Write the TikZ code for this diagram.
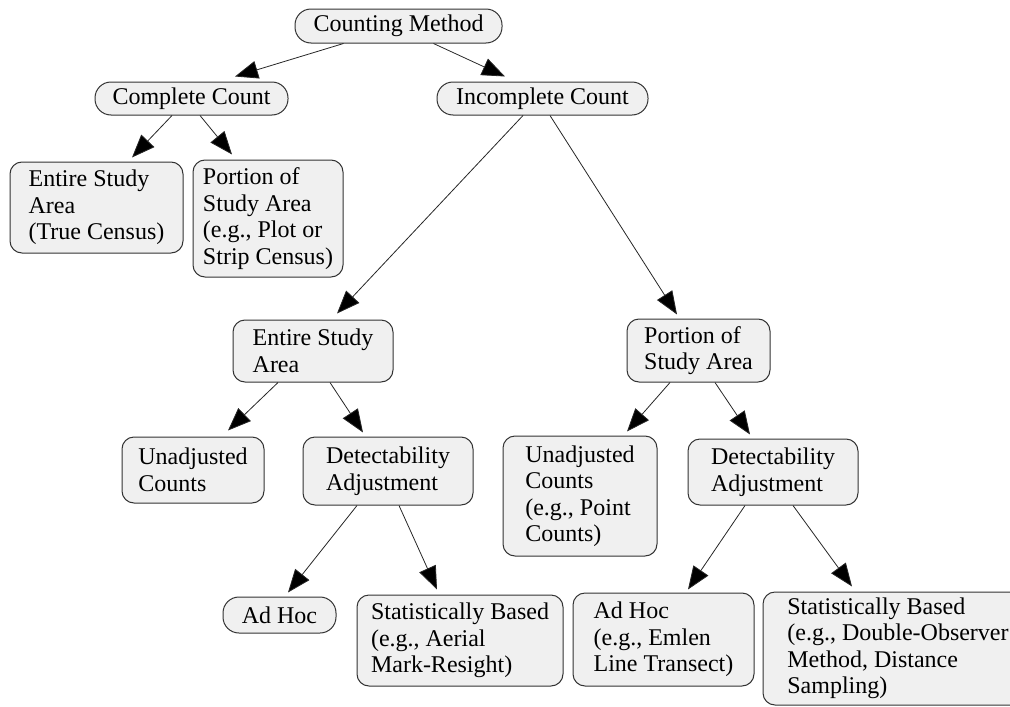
\documentclass[tikz,border=0pt]{standalone}
\usepackage{fontspec}
\setmainfont{Liberation Serif}
\usetikzlibrary{arrows.meta}
\begin{document}
\begin{tikzpicture}[x=1pt,y=-1pt,
  box/.style={draw=black!80, line width=1pt, fill=gray!12, rounded corners=12pt,
    align=left, inner sep=0pt, font=\fontsize{24}{26.5}\selectfont},
  pill/.style={box, rounded corners=16pt},
  arr/.style={draw=black!85, line width=0.8pt, -{Triangle[length=23pt,width=18pt,fill=black]}}]
\useasboundingbox (0,0) rectangle (1010,707);
\node[pill, minimum width=207pt, minimum height=34pt] (cm) at (398.5,26) {Counting Method};
\node[pill, minimum width=193pt, minimum height=33pt] (cc) at (191.5,98.5) {Complete Count};
\node[pill, minimum width=211pt, minimum height=33pt] (ic) at (542.5,98.5) {Incomplete Count};
\node[box, minimum width=173pt, minimum height=91pt] (esa1) at (96.5,207.5) {Entire Study\\Area\\(True Census)};
\node[box, minimum width=150pt, minimum height=117pt] (psa1) at (268,218.5) {Portion of\\Study Area\\(e.g., Plot or\\Strip Census)};
\node[box, minimum width=160pt, minimum height=62pt] (esa2) at (313,351) {Entire Study\\Area};
\node[box, minimum width=143pt, minimum height=63pt] (psa2) at (698.5,350.5) {Portion of\\Study Area};
\node[box, minimum width=142pt, minimum height=66pt] (uc1) at (193,470) {Unadjusted\\Counts};
\node[box, minimum width=170pt, minimum height=68pt] (da1) at (388,471) {Detectability\\Adjustment};
\node[box, minimum width=154pt, minimum height=120pt] (uc2) at (580,496) {Unadjusted\\Counts\\(e.g., Point\\Counts)};
\node[box, minimum width=170pt, minimum height=66pt] (da2) at (773,472) {Detectability\\Adjustment};
\node[pill, minimum width=113pt, minimum height=36pt] (ah1) at (279.5,615) {Ad Hoc};
\node[box, minimum width=206pt, minimum height=91pt] (sb1) at (460,640.5) {Statistically Based\\(e.g., Aerial\\Mark-Resight)};
\node[box, minimum width=181pt, minimum height=93pt] (ah2) at (663.5,639.5) {Ad Hoc\\(e.g., Emlen\\Line Transect)};
\node[box, minimum width=270pt, minimum height=113pt] (sb2) at (898,648.5) {Statistically Based\\(e.g., Double-Observer\\Method, Distance\\Sampling)};
\draw[arr] ([xshift=-55pt]cm.south) -- ([xshift=43.5pt,yshift=5pt]cc.north);
\draw[arr] ([xshift=35pt]cm.south) -- ([xshift=-37.5pt,yshift=5pt]ic.north);
\draw[arr] ([xshift=-19.5pt]cc.south) -- ([xshift=35.5pt,yshift=4pt]esa1.north);
\draw[arr] ([xshift=8.5pt]cc.south) -- ([xshift=-36pt,yshift=5pt]psa1.north);
\draw[arr] ([xshift=-19.5pt]ic.south) -- ([xshift=24pt,yshift=6pt]esa2.north);
\draw[arr] ([xshift=7.5pt]ic.south) -- ([xshift=-21.5pt,yshift=4pt]psa2.north);
\draw[arr] ([xshift=-35pt]esa2.south) -- ([xshift=35pt,yshift=6pt]uc1.north);
\draw[arr] ([xshift=17pt]esa2.south) -- ([xshift=-25pt,yshift=4pt]da1.north);
\draw[arr] ([xshift=-28.5pt]psa2.south) -- ([xshift=47pt,yshift=4pt]uc2.north);
\draw[arr] ([xshift=16.5pt]psa2.south) -- ([xshift=-23pt,yshift=4pt]da2.north);
\draw[arr] ([xshift=-31pt]da1.south) -- ([xshift=8.5pt,yshift=4pt]ah1.north);
\draw[arr] ([xshift=11pt]da1.south) -- ([xshift=-23pt,yshift=5pt]sb1.north);
\draw[arr] ([xshift=-28pt]da2.south) -- ([xshift=24.5pt,yshift=3pt]ah2.north);
\draw[arr] ([xshift=20pt]da2.south) -- ([xshift=-46pt,yshift=5pt]sb2.north);
\end{tikzpicture}
\end{document}
